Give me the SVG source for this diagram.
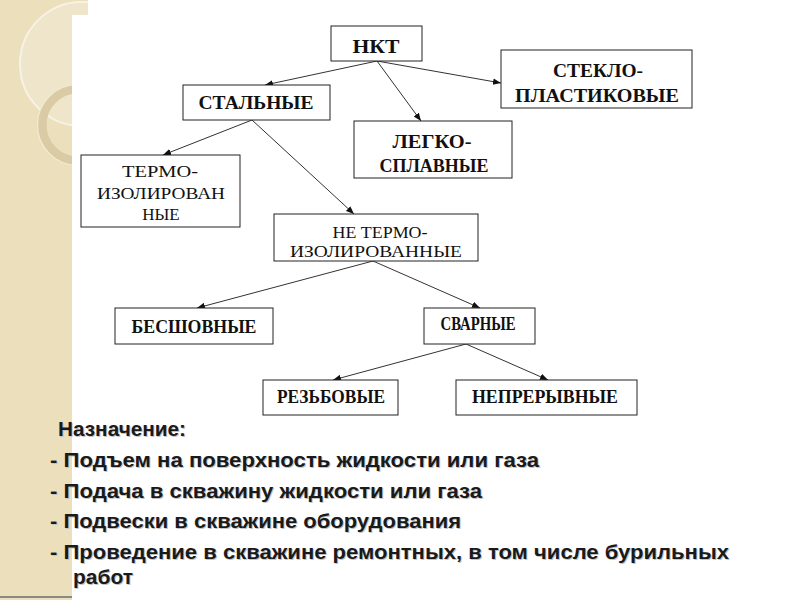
<svg xmlns="http://www.w3.org/2000/svg" width="800" height="600" viewBox="0 0 800 600">
<style>
.box{fill:#fff;stroke:#222;stroke-width:1}
.t{font-family:'Liberation Serif','DejaVu Serif',serif;fill:#111;text-anchor:middle;font-size:18px}
.r{font-size:17px}
.b{font-weight:bold}
.edge{stroke:#333;stroke-width:1;fill:none;marker-end:url(#ah)}
.txt{font-family:'Liberation Sans',Arial,sans-serif;font-weight:bold;font-size:21px;fill:#1a1a1a}
.sh{font-family:'Liberation Sans',Arial,sans-serif;font-weight:bold;font-size:21px;fill:#c4c4c4}
</style>
<defs>
<marker id="ah" viewBox="0 0 10 10" refX="10" refY="5" markerWidth="8" markerHeight="8" markerUnits="userSpaceOnUse" orient="auto">
<path d="M0,1 L10,5 L0,9 z" fill="#111"/>
</marker>
<clipPath id="band"><path d="M0,0 H88 V15 H72 V600 H0 Z"/></clipPath>
</defs>
<rect width="800" height="600" fill="#fff"/>
<g id="decor" clip-path="url(#band)">
<rect width="100" height="600" fill="#ECDFBC"/>
<circle cx="82" cy="64" r="62" fill="#EFE5CA" stroke="#F7F2E6" stroke-width="2"/>
<circle cx="78" cy="125" r="36" fill="none" stroke="#DACBA4" stroke-width="9"/>
<circle cx="78" cy="125" r="40.5" fill="none" stroke="#F3EBD6" stroke-width="1.2"/>
<rect x="0" y="596" width="100" height="2" fill="#8a8a80"/>
</g>
<g id="connectors">
<line class="edge" x1="377" y1="61" x2="265" y2="85"/>
<line class="edge" x1="377" y1="61" x2="421" y2="121"/>
<line class="edge" x1="377" y1="61" x2="501" y2="83"/>
<line class="edge" x1="252" y1="120" x2="163" y2="155"/>
<line class="edge" x1="252" y1="120" x2="354" y2="214"/>
<line class="edge" x1="373" y1="261" x2="197" y2="308"/>
<line class="edge" x1="373" y1="261" x2="480" y2="308"/>
<line class="edge" x1="466" y1="344" x2="333" y2="380"/>
<line class="edge" x1="466" y1="344" x2="548" y2="380"/>
</g>
<g id="n-nkt"><rect class="box" x="331" y="26" width="91" height="35"/><text class="t b" x="376" y="53" font-size="21" textLength="47" lengthAdjust="spacingAndGlyphs">НКТ</text></g>
<g id="n-steel"><rect class="box" x="183" y="85" width="147" height="35"/><text class="t b" x="256" y="109" textLength="115" lengthAdjust="spacingAndGlyphs">СТАЛЬНЫЕ</text></g>
<g id="n-glass"><rect class="box" x="501" y="50" width="191" height="58"/><text class="t b" x="598" y="77" textLength="90" lengthAdjust="spacingAndGlyphs">СТЕКЛО-</text><text class="t b" x="597" y="102" textLength="164" lengthAdjust="spacingAndGlyphs">ПЛАСТИКОВЫЕ</text></g>
<g id="n-light"><rect class="box" x="354" y="121" width="158" height="57"/><text class="t b" x="432" y="148" textLength="79" lengthAdjust="spacingAndGlyphs">ЛЕГКО-</text><text class="t b" x="434" y="172" textLength="109" lengthAdjust="spacingAndGlyphs">СПЛАВНЫЕ</text></g>
<g id="n-thermo"><rect class="box" x="81" y="155" width="159" height="72"/><text class="t r" x="160" y="177" textLength="76" lengthAdjust="spacingAndGlyphs">ТЕРМО-</text><text class="t r" x="161" y="199" textLength="128" lengthAdjust="spacingAndGlyphs">ИЗОЛИРОВАН</text><text class="t r" x="161" y="220">НЫЕ</text></g>
<g id="n-nothermo"><rect class="box" x="274" y="214" width="204" height="47"/><text class="t r" x="380" y="238" textLength="95" lengthAdjust="spacingAndGlyphs">НЕ ТЕРМО-</text><text class="t r" x="376" y="257" textLength="172" lengthAdjust="spacingAndGlyphs">ИЗОЛИРОВАННЫЕ</text></g>
<g id="n-seamless"><rect class="box" x="115" y="308" width="158" height="36"/><text class="t b" x="194" y="333" textLength="125" lengthAdjust="spacingAndGlyphs">БЕСШОВНЫЕ</text></g>
<g id="n-welded"><rect class="box" x="424" y="308" width="111" height="36"/><text class="t b" x="478" y="330" font-size="15" textLength="75" lengthAdjust="spacingAndGlyphs">СВАРНЫЕ</text></g>
<g id="n-thread"><rect class="box" x="263" y="380" width="135" height="35"/><text class="t b" x="331" y="403" textLength="108" lengthAdjust="spacingAndGlyphs">РЕЗЬБОВЫЕ</text></g>
<g id="n-contin"><rect class="box" x="456" y="380" width="181" height="35"/><text class="t b" x="545" y="403" textLength="146" lengthAdjust="spacingAndGlyphs">НЕПРЕРЫВНЫЕ</text></g>
<g id="purpose">
<text class="sh" x="59" y="437" textLength="128" lengthAdjust="spacingAndGlyphs">Назначение:</text>
<text class="txt" x="58" y="436" textLength="128" lengthAdjust="spacingAndGlyphs">Назначение:</text>
<text class="sh" x="51" y="468" textLength="489" lengthAdjust="spacingAndGlyphs">- Подъем на поверхность жидкости или газа</text>
<text class="txt" x="50" y="467" textLength="489" lengthAdjust="spacingAndGlyphs">- Подъем на поверхность жидкости или газа</text>
<text class="sh" x="51" y="499" textLength="432" lengthAdjust="spacingAndGlyphs">- Подача в скважину жидкости или газа</text>
<text class="txt" x="50" y="498" textLength="432" lengthAdjust="spacingAndGlyphs">- Подача в скважину жидкости или газа</text>
<text class="sh" x="51" y="529" textLength="411" lengthAdjust="spacingAndGlyphs">- Подвески в скважине оборудования</text>
<text class="txt" x="50" y="528" textLength="411" lengthAdjust="spacingAndGlyphs">- Подвески в скважине оборудования</text>
<text class="sh" x="51" y="560" textLength="679" lengthAdjust="spacingAndGlyphs">- Проведение в скважине ремонтных, в том числе бурильных</text>
<text class="txt" x="50" y="559" textLength="679" lengthAdjust="spacingAndGlyphs">- Проведение в скважине ремонтных, в том числе бурильных</text>
<text class="sh" x="74" y="585" textLength="60" lengthAdjust="spacingAndGlyphs">работ</text>
<text class="txt" x="73" y="584" textLength="60" lengthAdjust="spacingAndGlyphs">работ</text>
</g>
</svg>
